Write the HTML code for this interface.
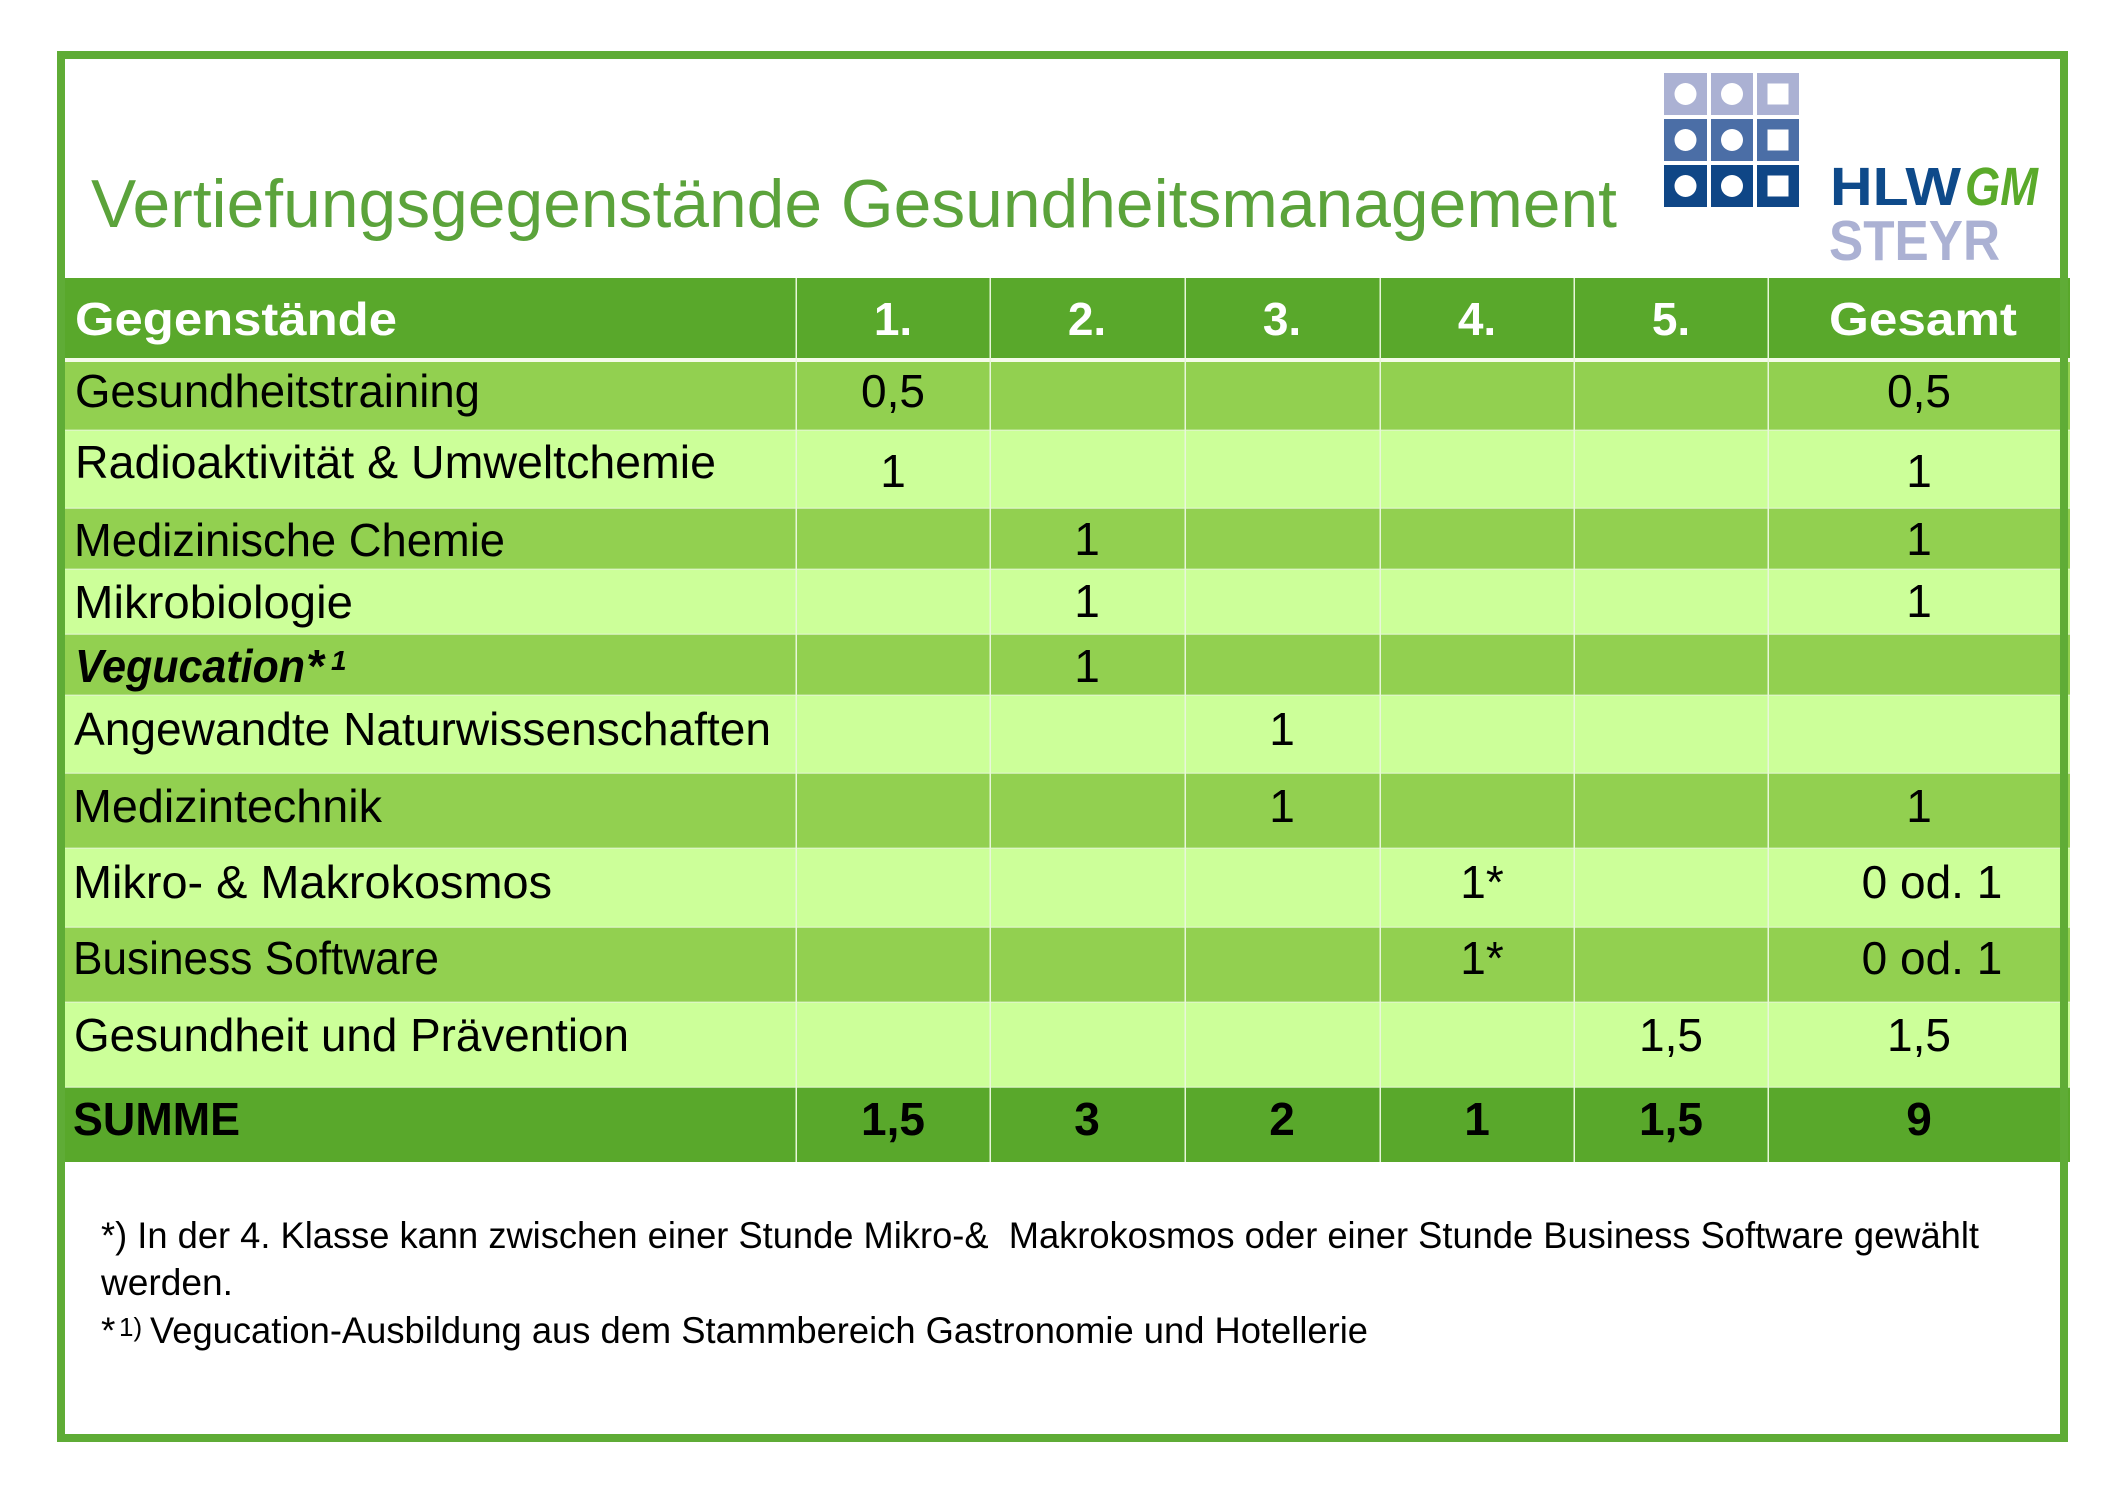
<!DOCTYPE html>
<html>
<head>
<meta charset="utf-8">
<style>
html,body{margin:0;padding:0;background:#fff;}
svg{display:block;}
text{font-family:"Liberation Sans",sans-serif;}
</style>
</head>
<body>
<svg width="2111" height="1493" viewBox="0 0 2111 1493" xmlns="http://www.w3.org/2000/svg">
<rect x="0" y="0" width="2111" height="1493" fill="#ffffff"/>

<!-- Title -->
<text x="91" y="227" font-size="68" fill="#5ba33b" textLength="1526" lengthAdjust="spacingAndGlyphs">Vertiefungsgegenstände Gesundheitsmanagement</text>

<!-- Logo grid -->
<g>
  <rect x="1664" y="73" width="43" height="42" fill="#abb1d3"/>
  <rect x="1711" y="73" width="42" height="42" fill="#abb1d3"/>
  <rect x="1757" y="73" width="42" height="42" fill="#abb1d3"/>
  <rect x="1664" y="119" width="43" height="42" fill="#4b6ea6"/>
  <rect x="1711" y="119" width="42" height="42" fill="#4b6ea6"/>
  <rect x="1757" y="119" width="42" height="42" fill="#4b6ea6"/>
  <rect x="1664" y="165" width="43" height="42" fill="#0f4686"/>
  <rect x="1711" y="165" width="42" height="42" fill="#0f4686"/>
  <rect x="1757" y="165" width="42" height="42" fill="#0f4686"/>
  <circle cx="1685.5" cy="94" r="11" fill="#fff"/>
  <circle cx="1732" cy="94" r="11" fill="#fff"/>
  <rect x="1767.5" y="83.5" width="21" height="21" fill="#fff"/>
  <circle cx="1685.5" cy="140" r="11" fill="#fff"/>
  <circle cx="1732" cy="140" r="11" fill="#fff"/>
  <rect x="1767.5" y="129.5" width="21" height="21" fill="#fff"/>
  <circle cx="1685.5" cy="186" r="11" fill="#fff"/>
  <circle cx="1732" cy="186" r="11" fill="#fff"/>
  <rect x="1767.5" y="175.5" width="21" height="21" fill="#fff"/>
</g>
<text x="1830" y="205" font-size="54" font-weight="bold" fill="#0e4a8a" textLength="131" lengthAdjust="spacingAndGlyphs">HLW</text>
<text x="1965" y="205" font-size="54" font-weight="bold" font-style="italic" fill="#5aaa2a" textLength="73" lengthAdjust="spacingAndGlyphs">GM</text>
<text x="1829" y="260" font-size="57" font-weight="bold" fill="#abb1d3" textLength="171" lengthAdjust="spacingAndGlyphs">STEYR</text>

<!-- Table rows -->
<rect x="65" y="278" width="2005" height="80" fill="#59a82b"/>
<rect x="65" y="358" width="2005" height="4" fill="#f4fbe9"/>
<rect x="65" y="362" width="2005" height="68" fill="#92d050"/>
<rect x="65" y="430" width="2005" height="78" fill="#ccff99"/>
<rect x="65" y="508" width="2005" height="61" fill="#92d050"/>
<rect x="65" y="569" width="2005" height="65" fill="#ccff99"/>
<rect x="65" y="634" width="2005" height="61" fill="#92d050"/>
<rect x="65" y="695" width="2005" height="78" fill="#ccff99"/>
<rect x="65" y="773" width="2005" height="75" fill="#92d050"/>
<rect x="65" y="848" width="2005" height="79" fill="#ccff99"/>
<rect x="65" y="927" width="2005" height="75" fill="#92d050"/>
<rect x="65" y="1002" width="2005" height="85" fill="#ccff99"/>
<rect x="65" y="1087" width="2005" height="75" fill="#59a82b"/>

<!-- row separators -->
<g fill="#e4f6d2" opacity="0.7">
  <rect x="65" y="429.5" width="2005" height="1.5"/>
  <rect x="65" y="507.5" width="2005" height="1.5"/>
  <rect x="65" y="568.5" width="2005" height="1.5"/>
  <rect x="65" y="633.5" width="2005" height="1.5"/>
  <rect x="65" y="694.5" width="2005" height="1.5"/>
  <rect x="65" y="772.5" width="2005" height="1.5"/>
  <rect x="65" y="847.5" width="2005" height="1.5"/>
  <rect x="65" y="926.5" width="2005" height="1.5"/>
  <rect x="65" y="1001.5" width="2005" height="1.5"/>
  <rect x="65" y="1086.5" width="2005" height="1.5"/>
</g>

<!-- column dividers -->
<g fill="#e8f6da">
  <rect x="795.5" y="278" width="1.5" height="884"/>
  <rect x="989.5" y="278" width="1.5" height="884"/>
  <rect x="1184.5" y="278" width="1.5" height="884"/>
  <rect x="1379.5" y="278" width="1.5" height="884"/>
  <rect x="1573.5" y="278" width="1.5" height="884"/>
  <rect x="1767.5" y="278" width="1.5" height="884"/>
</g>

<!-- Frame -->
<rect x="61" y="55" width="2003" height="1383" fill="none" stroke="#5fac36" stroke-width="8"/>

<!-- Header -->
<g font-size="46" font-weight="bold" fill="#ffffff">
  <text x="75" y="335" textLength="322" lengthAdjust="spacingAndGlyphs">Gegenstände</text>
  <text x="893" y="335" text-anchor="middle">1.</text>
  <text x="1087" y="335" text-anchor="middle">2.</text>
  <text x="1282" y="335" text-anchor="middle">3.</text>
  <text x="1477" y="335" text-anchor="middle">4.</text>
  <text x="1671" y="335" text-anchor="middle">5.</text>
  <text x="1923" y="335" text-anchor="middle" textLength="188" lengthAdjust="spacingAndGlyphs">Gesamt</text>
</g>

<!-- Body labels -->
<g font-size="46" fill="#000000">
  <text x="75" y="407" textLength="405" lengthAdjust="spacingAndGlyphs">Gesundheitstraining</text>
  <text x="75" y="478" textLength="641" lengthAdjust="spacingAndGlyphs">Radioaktivität &amp; Umweltchemie</text>
  <text x="74" y="556" textLength="431" lengthAdjust="spacingAndGlyphs">Medizinische Chemie</text>
  <text x="74" y="618" textLength="279" lengthAdjust="spacingAndGlyphs">Mikrobiologie</text>
  <text x="74" y="745" textLength="697" lengthAdjust="spacingAndGlyphs">Angewandte Naturwissenschaften</text>
  <text x="73" y="822" textLength="309" lengthAdjust="spacingAndGlyphs">Medizintechnik</text>
  <text x="73" y="898" textLength="479" lengthAdjust="spacingAndGlyphs">Mikro- &amp; Makrokosmos</text>
  <text x="73" y="974" textLength="366" lengthAdjust="spacingAndGlyphs">Business Software</text>
  <text x="74" y="1051" textLength="555" lengthAdjust="spacingAndGlyphs">Gesundheit und Prävention</text>
</g>
<text x="75" y="682" font-size="46" font-weight="bold" font-style="italic" fill="#000" textLength="230" lengthAdjust="spacingAndGlyphs">Vegucation</text>
<text x="306" y="682" font-size="46" font-weight="bold" font-style="italic" fill="#000">*</text>
<text x="331" y="670" font-size="28" font-weight="bold" font-style="italic" fill="#000">1</text>

<!-- Body values -->
<g font-size="46" fill="#000000" text-anchor="middle">
  <text x="893" y="407">0,5</text>
  <text x="1919" y="407">0,5</text>
  <text x="893" y="487">1</text>
  <text x="1919" y="487">1</text>
  <text x="1087" y="555">1</text>
  <text x="1919" y="555">1</text>
  <text x="1087" y="617">1</text>
  <text x="1919" y="617">1</text>
  <text x="1087" y="682">1</text>
  <text x="1282" y="745">1</text>
  <text x="1282" y="822">1</text>
  <text x="1919" y="822">1</text>
  <text x="1482" y="898">1*</text>
  <text x="1932" y="898">0 od. 1</text>
  <text x="1482" y="974">1*</text>
  <text x="1932" y="974">0 od. 1</text>
  <text x="1671" y="1051">1,5</text>
  <text x="1919" y="1051">1,5</text>
</g>

<!-- SUMME -->
<text x="73" y="1135" font-size="46" font-weight="bold" fill="#000" textLength="167" lengthAdjust="spacingAndGlyphs">SUMME</text>
<g font-size="46" font-weight="bold" fill="#000" text-anchor="middle">
  <text x="893" y="1135">1,5</text>
  <text x="1087" y="1135">3</text>
  <text x="1282" y="1135">2</text>
  <text x="1477" y="1135">1</text>
  <text x="1671" y="1135">1,5</text>
  <text x="1919" y="1135">9</text>
</g>

<!-- Footnotes -->
<g font-size="37" fill="#000">
  <text x="101" y="1248" textLength="1878" lengthAdjust="spacingAndGlyphs" xml:space="preserve">*) In der 4. Klasse kann zwischen einer Stunde Mikro-&amp;  Makrokosmos oder einer Stunde Business Software gewählt</text>
  <text x="101" y="1295" textLength="132" lengthAdjust="spacingAndGlyphs">werden.</text>
  <text x="101" y="1343">*</text>
  <text x="119" y="1336" font-size="26">1)</text>
  <text x="150" y="1343" textLength="1218" lengthAdjust="spacingAndGlyphs">Vegucation-Ausbildung aus dem Stammbereich Gastronomie und Hotellerie</text>
</g>
</svg>
</body>
</html>
